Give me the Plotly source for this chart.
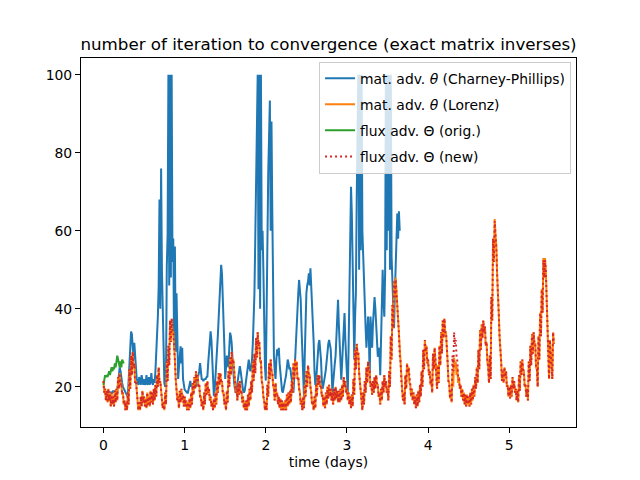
import numpy as np
import plotly.graph_objects as go

# time steps (days)
dt_cp = 0.01
dt_lz = 0.02
dt_orig = 0.01

# mat. adv. theta (Charney-Phillips), every 0.01 day
iters_cp = [
    20, 19.5, 19, 18.5, 18.5, 18.5, 18.8, 18.5, 18.5, 18.6,
    18.5, 18.5, 19, 18.5, 18.8, 19, 18.5, 19, 21, 23,
    25, 24, 22, 21, 20, 19.5, 19, 18.5, 18, 17.8,
    17.6, 22, 28, 33, 34.2, 33.5, 29, 27, 31.3, 29,
    25, 22, 21.5, 20.5, 22.5, 21, 20.5, 23, 21, 20.5,
    22, 20.5, 21, 23, 20.5, 21, 22.5, 20.5, 21.5, 23.5,
    21, 20.5, 22, 21, 24, 28, 32, 38, 45.7, 68,
    40, 76, 50, 40, 22, 21, 20, 22, 50.8, 59,
    100, 46, 100, 48, 100, 52, 58, 30, 56, 29,
    44, 28, 22, 25, 30, 30.4, 26, 30, 22, 20,
    19.3, 19, 18.7, 18.5, 18.5, 19.5, 21, 21.5, 20, 20.5,
    20.5, 20, 20.5, 20.2, 20, 21, 22, 22.6, 24, 26.1,
    24, 22, 21.9, 21.5, 21.9, 21.9, 22, 22.5, 22.6, 26,
    28.8, 31, 34.2, 32, 28, 22, 17.6, 19, 22, 25,
    30, 33.5, 38, 44, 48, 51.3, 49, 44, 36, 30,
    22, 26, 28, 26, 25, 30, 33.9, 33, 31, 27,
    22.6, 21, 19.5, 18.5, 19.5, 21, 21.9, 23, 25.3, 24,
    21.9, 20, 19, 18.5, 19, 20.5, 21.9, 24, 26, 27,
    25, 24, 25, 27, 31, 38, 44, 57.6, 70, 80.7,
    100, 45, 100, 40, 100, 55, 60, 50, 35.5, 25,
    21.6, 45, 61, 75, 84, 93.4, 60, 88, 64.8, 36.4,
    28, 24, 22, 27, 29.6, 28, 30, 26, 23, 21,
    19, 18.5, 19.5, 21, 21.9, 23, 25, 27, 26, 24.5,
    25, 23, 21, 19, 18.5, 22, 27, 32, 35, 38.9,
    44, 47.4, 44, 42.3, 35, 29.6, 22, 17.6, 28, 39.6,
    44, 46, 47, 49.1, 46, 50.4, 46, 42, 36, 31.3,
    24, 20.5, 21.5, 25, 29.6, 31, 32, 30, 27, 22,
    19.5, 20.5, 21.5, 23, 24.5, 27, 29.6, 31, 32, 30,
    29.6, 25, 18.5, 21, 24.5, 26, 28, 32, 37, 42.3,
    36, 30, 24, 21.8, 26, 30, 35, 38.9, 32, 26,
    22, 18.5, 30, 45, 60, 71.3, 64.5, 52, 44, 27,
    38, 44, 67.9, 82.4, 100, 50, 100, 55, 100, 60,
    52.5, 45, 39.6, 35, 30, 36, 38, 33, 22, 38,
    32, 30, 36, 40, 43, 40, 35, 30, 27.7, 30,
    29, 23, 32, 40, 50, 42, 38, 49, 100, 55,
    100, 60, 100, 50, 100, 53.3, 46, 44.9, 35, 44,
    52, 60, 64.4, 58, 65, 60,
]

# mat. adv. theta (Lorenz): the curve jumps between a high and a low value
# every step, so keep the top and bottom of the band every 0.02 day
iters_lz_hi = [
    21.5, 19.5, 19, 19.5, 18, 18.5, 17.5, 19, 19.5, 22.5,
    23.5, 21, 18.5, 16.5, 16, 18.5, 24.5, 28, 29, 26,
    21.5, 16.5, 16, 17.5, 19, 17.5, 17, 18.5, 17.5, 19,
    18.5, 19.5, 20.5, 23, 25, 21.5, 17.5, 16, 18.5, 26.5,
    30.5, 37, 37.5, 34, 27, 19.5, 17.5, 19, 19.5, 18,
    17.5, 16.5, 16, 17, 18.5, 21, 22.5, 24, 23, 20.5,
    17.5, 16.5, 18.5, 21, 21.5, 19.5, 17.5, 16, 17, 18.5,
    21.5, 23.5, 23.5, 21.5, 18.5, 16.5, 19, 24, 27.5, 29,
    27, 21.5, 19.5, 21, 21.5, 19, 17.5, 16, 16.5, 18,
    19.5, 21.5, 26.5, 28.5, 32.5, 34, 31.5, 26.5, 20.5, 16.5,
    16, 20.5, 26, 27, 23.5, 19.5, 21, 18.5, 17.5, 17,
    16.5, 16, 16.5, 18, 18.5, 19, 21.5, 26, 27, 26.5,
    22.5, 18.5, 16.5, 17.5, 20.5, 24, 25.5, 23, 18.5, 16,
    17.5, 20.5, 23, 23, 20.5, 18, 17.5, 18.5, 20, 20.5,
    19.5, 18.5, 19.5, 20, 19, 19, 19.5, 20.5, 22.5, 21.5,
    19.5, 18.5, 17.5, 18, 22, 29.5, 31, 28.5, 21, 16.5,
    18.5, 21.5, 25, 26.5, 24, 21, 21.5, 22.5, 23, 20.5,
    18.5, 19.5, 21.5, 23, 21.5, 19.5, 24, 33, 41, 47,
    48, 43, 34, 26.5, 19.5, 18.5, 23, 26, 25, 20.5,
    19.5, 18.5, 17.5, 18, 19, 20.5, 24, 29.5, 32, 30.5,
    27, 24, 22, 28.5, 30, 23, 25.5, 30.5, 34, 37,
    37.5, 34, 26.5, 21, 19, 24, 27.5, 26.5, 25, 22.5,
    20.5, 19.5, 18.5, 18, 18, 17.5, 18.5, 19.5, 20.5, 22.5,
    25, 29.5, 34.5, 36, 37, 35.5, 31.5, 25, 28, 43,
    58, 63, 56, 45, 33, 26.5, 24, 25, 24, 20.5,
    20, 20.5, 22.5, 21.5, 19.5, 19, 23, 26.5, 27, 24,
    20.5, 19.5, 26.5, 30.5, 33.5, 34, 31, 24.5, 33, 39,
    45, 53, 53, 43, 27, 32, 27, 34,
]
iters_lz_lo = [
    18.5, 16.5, 16, 16.5, 15, 15.5, 15, 16, 16.5, 19.5,
    20.5, 18, 15.5, 14, 14, 15.5, 19.5, 23, 25, 21,
    18.5, 14, 14, 15, 16, 15, 14.5, 15.5, 15, 16,
    15.5, 16.5, 17.5, 20, 21, 18.5, 14.5, 14, 15.5, 21.5,
    25.5, 31.5, 34, 27.5, 22, 16.5, 14.5, 16, 16.5, 15,
    15, 14, 14, 14.5, 15.5, 18, 19.5, 21.5, 20, 17.5,
    15, 14, 15.5, 18, 18.5, 16.5, 15, 14, 14.5, 15.5,
    18.5, 20.5, 21, 18.5, 15.5, 14, 16, 20, 23, 26,
    22, 18.5, 16.5, 18, 18.5, 16, 14.5, 14, 14, 15,
    16.5, 18.5, 21.5, 23.5, 27.5, 30.5, 26.5, 21.5, 17.5, 14,
    14, 17.5, 22, 24, 20.5, 16.5, 18, 15.5, 14.5, 14,
    14, 14, 14, 15, 15.5, 16, 18.5, 22, 24.5, 22,
    19.5, 15.5, 14, 14.5, 17.5, 20, 23, 20, 15.5, 14,
    14.5, 17.5, 20.5, 20, 17.5, 15, 14.5, 15.5, 17, 17.5,
    16.5, 15.5, 16.5, 17, 16, 16, 16.5, 17.5, 20, 18.5,
    16.5, 15.5, 14.5, 15, 18, 24.5, 28.5, 23.5, 17, 14,
    15.5, 18.5, 21, 24, 20, 18, 18.5, 19.5, 20.5, 17.5,
    15.5, 16.5, 18.5, 20, 18.5, 16.5, 20, 27, 35, 43,
    44, 37, 28, 21.5, 16.5, 15.5, 19.5, 23.5, 21, 17.5,
    16.5, 15.5, 14.5, 15, 16, 17.5, 20, 24.5, 29, 26,
    23, 20.5, 18.5, 24.5, 27, 19.5, 21, 25.5, 28.5, 32.5,
    34, 28, 21.5, 17, 16, 20, 25, 23, 21, 19.5,
    17.5, 16.5, 15.5, 15, 15.5, 15, 15.5, 16.5, 17.5, 19.5,
    21, 24.5, 29.5, 32.5, 34, 30.5, 26.5, 21, 22, 37,
    52, 59, 49, 39, 27, 21.5, 21, 22.5, 20, 17.5,
    17, 17.5, 19.5, 18.5, 16.5, 16, 19, 23, 24.5, 20,
    17.5, 16.5, 21.5, 25.5, 28.5, 31, 25, 20, 27, 33,
    39, 48, 50, 37, 22, 27.5, 22, 31,
]

# flux adv. Theta (orig.), every 0.01 day
iters_orig = [
    20.5, 22, 23, 22.5, 23, 22.5, 23.5, 24, 23, 24.5,
    25, 24, 25, 24.5, 26, 25, 27, 28, 27, 25.5,
    25, 26.5, 25, 27, 26.5, 26,
]

# flux adv. Theta (new): top and bottom of its band every 0.02 day
iters_new_hi = [
    21.5, 19.5, 19, 19.5, 18, 18.5, 17.5, 19, 19.5, 22.5,
    23.5, 21, 18.5, 16.5, 16, 18.5, 24.5, 28, 29, 26,
    21.5, 16.5, 16, 17.5, 19, 17.5, 17, 18.5, 17.5, 19,
    18.5, 19.5, 20.5, 23, 25, 21.5, 17.5, 16, 18.5, 26.5,
    30.5, 37, 37.5, 34, 27, 19.5, 17.5, 19, 19.5, 18,
    17.5, 16.5, 16, 17, 18.5, 21, 22.5, 24, 23, 20.5,
    17.5, 16.5, 18.5, 21, 21.5, 19.5, 17.5, 16, 17, 18.5,
    21.5, 23.5, 23.5, 21.5, 18.5, 16.5, 19, 24, 27.5, 29,
    27, 21.5, 19.5, 21, 21.5, 19, 17.5, 16, 16.5, 18,
    19.5, 21.5, 26.5, 28.5, 32.5, 34, 31.5, 26.5, 20.5, 16.5,
    16, 20.5, 26, 27, 23.5, 19.5, 21, 18.5, 17.5, 17,
    16.5, 16, 16.5, 18, 18.5, 19, 21.5, 26, 27, 26.5,
    22.5, 18.5, 16.5, 17.5, 20.5, 24, 25.5, 23, 18.5, 16,
    17.5, 20.5, 23, 23, 20.5, 18, 17.5, 18.5, 20, 20.5,
    19.5, 18.5, 19.5, 20, 19, 19, 19.5, 20.5, 22.5, 21.5,
    19.5, 18.5, 17.5, 18, 22, 29.5, 31, 28.5, 21, 16.5,
    18.5, 21.5, 25, 26.5, 24, 21, 21.5, 22.5, 23, 20.5,
    18.5, 19.5, 21.5, 23, 21.5, 19.5, 24, 33, 41, 47,
    47.5, 43, 34, 26.5, 19.5, 18.5, 23, 26, 25, 20.5,
    19.5, 18.5, 17.5, 18, 19, 20.5, 24, 29.5, 32, 30.5,
    27, 24, 22, 28.5, 30, 23, 25.5, 30.5, 34, 37,
    37.5, 34, 26.5, 21, 19, 28, 34, 32, 26.5, 22.5,
    20.5, 19.5, 18.5, 18, 18, 17.5, 18.5, 19.5, 20.5, 22.5,
    25, 29.5, 34.5, 36, 37, 35.5, 31.5, 25, 28, 43,
    58, 62.5, 56, 45, 33, 26.5, 24, 25, 24, 20.5,
    20, 20.5, 22.5, 21.5, 19.5, 19, 23, 26.5, 27, 24,
    20.5, 19.5, 26.5, 30.5, 33.5, 34, 31, 24.5, 33, 39,
    45, 52.5, 52.5, 43, 27, 32, 27, 34,
]
iters_new_lo = [
    18.5, 16.5, 16, 16.5, 15, 15.5, 15, 16, 16.5, 19.5,
    20.5, 18, 15.5, 14, 14, 15.5, 19.5, 23, 25, 21,
    18.5, 14, 14, 15, 16, 15, 14.5, 15.5, 15, 16,
    15.5, 16.5, 17.5, 20, 21, 18.5, 14.5, 14, 15.5, 21.5,
    25.5, 31.5, 34, 27.5, 22, 16.5, 14.5, 16, 16.5, 15,
    15, 14, 14, 14.5, 15.5, 18, 19.5, 21.5, 20, 17.5,
    15, 14, 15.5, 18, 18.5, 16.5, 15, 14, 14.5, 15.5,
    18.5, 20.5, 21, 18.5, 15.5, 14, 16, 20, 23, 26,
    22, 18.5, 16.5, 18, 18.5, 16, 14.5, 14, 14, 15,
    16.5, 18.5, 21.5, 23.5, 27.5, 30.5, 26.5, 21.5, 17.5, 14,
    14, 17.5, 22, 24, 20.5, 16.5, 18, 15.5, 14.5, 14,
    14, 14, 14, 15, 15.5, 16, 18.5, 22, 24.5, 22,
    19.5, 15.5, 14, 14.5, 17.5, 20, 23, 20, 15.5, 14,
    14.5, 17.5, 20.5, 20, 17.5, 15, 14.5, 15.5, 17, 17.5,
    16.5, 15.5, 16.5, 17, 16, 16, 16.5, 17.5, 20, 18.5,
    16.5, 15.5, 14.5, 15, 18, 24.5, 28.5, 23.5, 17, 14,
    15.5, 18.5, 21, 24, 20, 18, 18.5, 19.5, 20.5, 17.5,
    15.5, 16.5, 18.5, 20, 18.5, 16.5, 20, 27, 35, 43,
    44, 37, 28, 21.5, 16.5, 15.5, 19.5, 23.5, 21, 17.5,
    16.5, 15.5, 14.5, 15, 16, 17.5, 20, 24.5, 29, 26,
    23, 20.5, 18.5, 24.5, 27, 19.5, 21, 25.5, 28.5, 32.5,
    34, 28, 21.5, 17, 16, 24, 31, 28, 22.5, 19.5,
    17.5, 16.5, 15.5, 15, 15.5, 15, 15.5, 16.5, 17.5, 19.5,
    21, 24.5, 29.5, 32.5, 34, 30.5, 26.5, 21, 22, 37,
    52, 59, 49, 39, 27, 21.5, 21, 22.5, 20, 17.5,
    17, 17.5, 19.5, 18.5, 16.5, 16, 19, 23, 24.5, 20,
    17.5, 16.5, 21.5, 25.5, 28.5, 31, 25, 20, 27, 33,
    39, 48, 50, 37, 22, 27.5, 22, 31,
]

t_cp = np.arange(len(iters_cp)) * dt_cp
t_orig = np.arange(len(iters_orig)) * dt_orig
t_band = np.arange(len(iters_lz_hi)) * dt_lz

# interleave top/bottom so the line zig-zags across the band
t_zig = np.column_stack((t_band, t_band + dt_lz / 2)).ravel()
lz_zig = np.column_stack((iters_lz_hi, iters_lz_lo)).ravel()
new_zig = np.column_stack((iters_new_hi, iters_new_lo)).ravel()

font = "DejaVu Sans"
fig = go.Figure()

fig.add_trace(go.Scatter(x=t_cp, y=iters_cp, mode="lines", name="mat. adv. <i>θ</i> (Charney-Phillips)",
                         legendgroup="a", line=dict(color="#1f77b4", width=2)))
fig.add_trace(go.Scatter(x=t_zig, y=lz_zig, mode="lines", name="mat. adv. <i>θ</i> (Lorenz)",
                         legendgroup="b", line=dict(color="#ff7f0e", width=2)))
fig.add_trace(go.Scatter(x=t_orig, y=iters_orig, mode="lines", name="flux adv. Θ (orig.)",
                         legendgroup="c", line=dict(color="#2ca02c", width=2)))
fig.add_trace(go.Scatter(x=t_zig, y=new_zig, mode="lines", name="flux adv. Θ (new)",
                         legendgroup="d", line=dict(color="#d62728", width=2, dash="2px,3px")))

axis_style = dict(showline=True, linecolor="black", linewidth=1.1, mirror=True,
                  ticks="outside", ticklen=5, tickwidth=1.1, tickcolor="black",
                  showgrid=False, zeroline=False,
                  tickfont=dict(family=font, size=13.9, color="black"))

fig.update_xaxes(range=[-0.277, 5.822], tickvals=[0, 1, 2, 3, 4, 5],
                 title=dict(text="time (days)", font=dict(family=font, size=13.9, color="black"), standoff=5),
                 **axis_style)
fig.update_yaxes(range=[9.7, 104.3], tickvals=[20, 40, 60, 80, 100], **axis_style)

# page body adds an 8px margin, so the figure is a little smaller than the window
fig.update_layout(
    width=624, height=464,
    margin=dict(l=73, r=56, t=50, b=45, autoexpand=False),
    paper_bgcolor="white", plot_bgcolor="white",
    title=dict(text="number of iteration to convergence (exact matrix inverses)",
               font=dict(family=font, size=16.7, color="black"),
               x=0.5, xref="paper", xanchor="center", y=0.922, yref="container", yanchor="middle"),
    legend=dict(x=0.99, y=0.99, xanchor="right", yanchor="top",
                bgcolor="rgba(255,255,255,0.8)", bordercolor="#cccccc", borderwidth=1,
                font=dict(family=font, size=13.9, color="black"),
                traceorder="grouped", tracegroupgap=5, itemwidth=30),
    showlegend=True,
)

fig.write_html("out.html")
